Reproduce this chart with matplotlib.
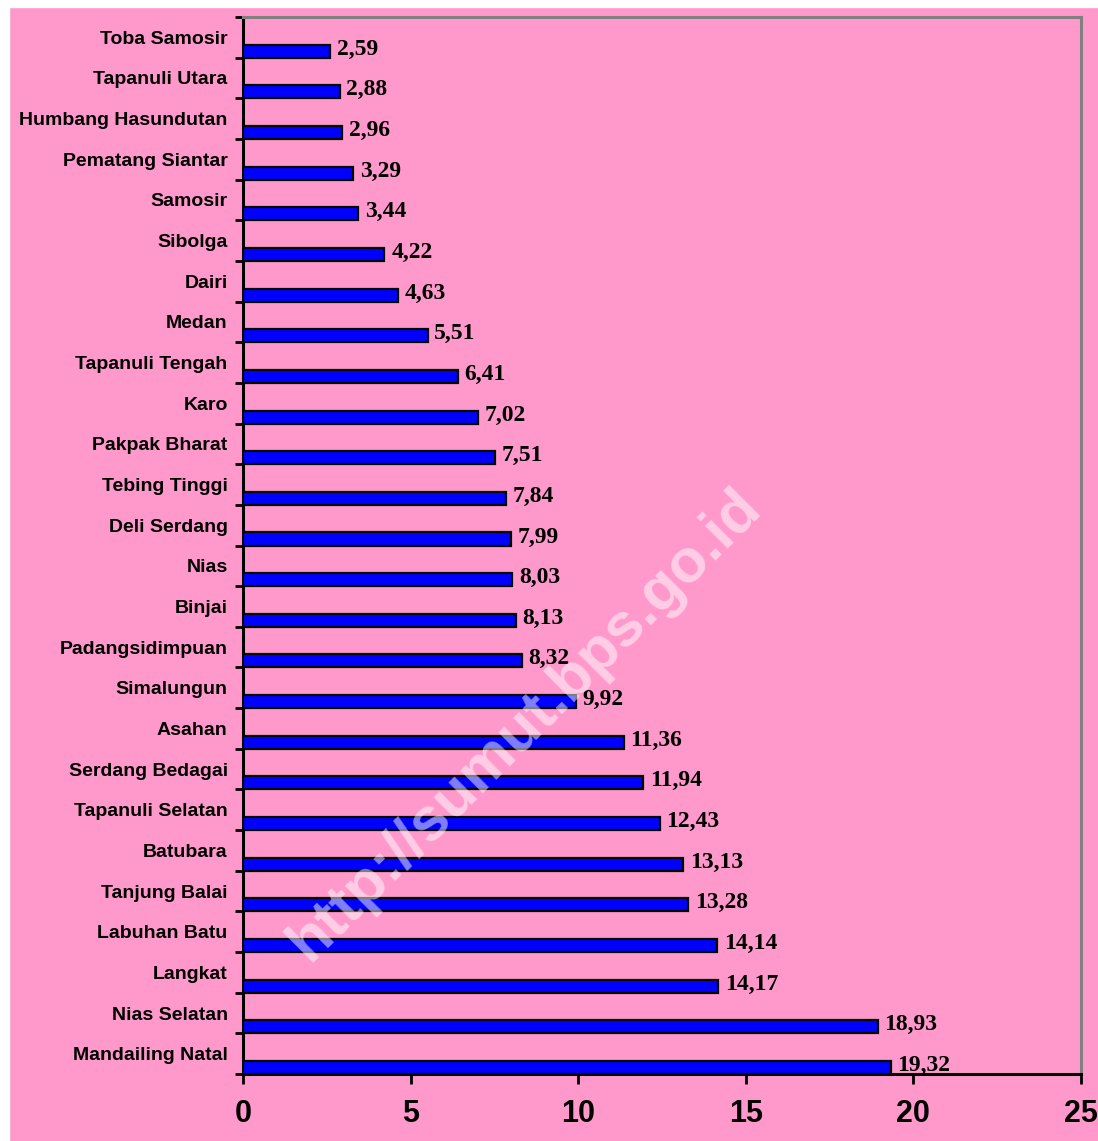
import matplotlib
matplotlib.use("Agg")
import matplotlib.pyplot as plt
from matplotlib.patches import Rectangle
import numpy as np

categories = ["Toba Samosir", "Tapanuli Utara", "Humbang Hasundutan", "Pematang Siantar",
              "Samosir", "Sibolga", "Dairi", "Medan", "Tapanuli Tengah", "Karo",
              "Pakpak Bharat", "Tebing Tinggi", "Deli Serdang", "Nias", "Binjai",
              "Padangsidimpuan", "Simalungun", "Asahan", "Serdang Bedagai",
              "Tapanuli Selatan", "Batubara", "Tanjung Balai", "Labuhan Batu",
              "Langkat", "Nias Selatan", "Mandailing Natal"]
values = [2.59, 2.88, 2.96, 3.29, 3.44, 4.22, 4.63, 5.51, 6.41, 7.02,
          7.51, 7.84, 7.99, 8.03, 8.13, 8.32, 9.92, 11.36, 11.94,
          12.43, 13.13, 13.28, 14.14, 14.17, 18.93, 19.32]
xticks = [0, 5, 10, 15, 20, 25]

PINK = "#FF99CC"
W, H = 1098, 1141
fig = plt.figure(figsize=(W / 100, H / 100), dpi=100)
fig.patch.set_facecolor(PINK)
# white margins top and left
fig.add_artist(Rectangle((0, 0), 9 / W, 1, transform=fig.transFigure, color="white", zorder=0))
fig.add_artist(Rectangle((0, 1 - 7 / H), 1, 7 / H, transform=fig.transFigure, color="white", zorder=0))

ax = fig.add_axes([243 / W, 1 - 1074 / H, (1081 - 243) / W, (1074 - 17) / H])
ax.set_facecolor(PINK)

n = len(categories)
pos = np.arange(n)
bar_h = 0.32
bar_y = pos + 0.5 - bar_h / 2
ax.barh(bar_y, values, height=bar_h, color="#0000FF", edgecolor="black", linewidth=1.6, zorder=3)

for y, v in zip(bar_y, values):
    ax.text(v + 0.2, y - 0.05, f"{v:.2f}".replace(".", ","), va="center", ha="left",
            fontsize=17, fontweight="bold", family=["Liberation Serif", "DejaVu Serif"], zorder=4)

ax.set_xlim(0, 25)
ax.set_ylim(n - 0.5, -0.5)
ax.set_yticks(pos)
ax.set_yticklabels(categories, fontsize=14, fontweight="bold", family=["Liberation Sans", "DejaVu Sans"])
ax.set_yticks(np.arange(n + 1) - 0.5, minor=True)
ax.tick_params(axis="y", which="major", length=0, pad=11)
ax.tick_params(axis="y", which="minor", length=6, width=2, color="black", direction="out")

ax.set_xticks(xticks)
ax.set_xticklabels([str(t) for t in xticks], fontsize=22, fontweight="bold",
                   family=["Liberation Sans Narrow", "Liberation Sans", "DejaVu Sans"])
ax.tick_params(axis="x", which="major", length=7, width=2, color="black", direction="out", pad=11)

for s in ["left", "bottom"]:
    ax.spines[s].set_color("black")
    ax.spines[s].set_linewidth(2.2)
for s in ["top", "right"]:
    ax.spines[s].set_color("#808080")
    ax.spines[s].set_linewidth(2.2)

# watermark
fig.text(525 / W, 1 - 725 / H, "http://sumut.bps.go.id", rotation=45, ha="center", va="center",
         fontsize=44, fontweight="bold", color="white", alpha=0.5,
         family=["Liberation Sans", "DejaVu Sans"], zorder=10)

fig.savefig("out.png", dpi=100, facecolor=PINK)
